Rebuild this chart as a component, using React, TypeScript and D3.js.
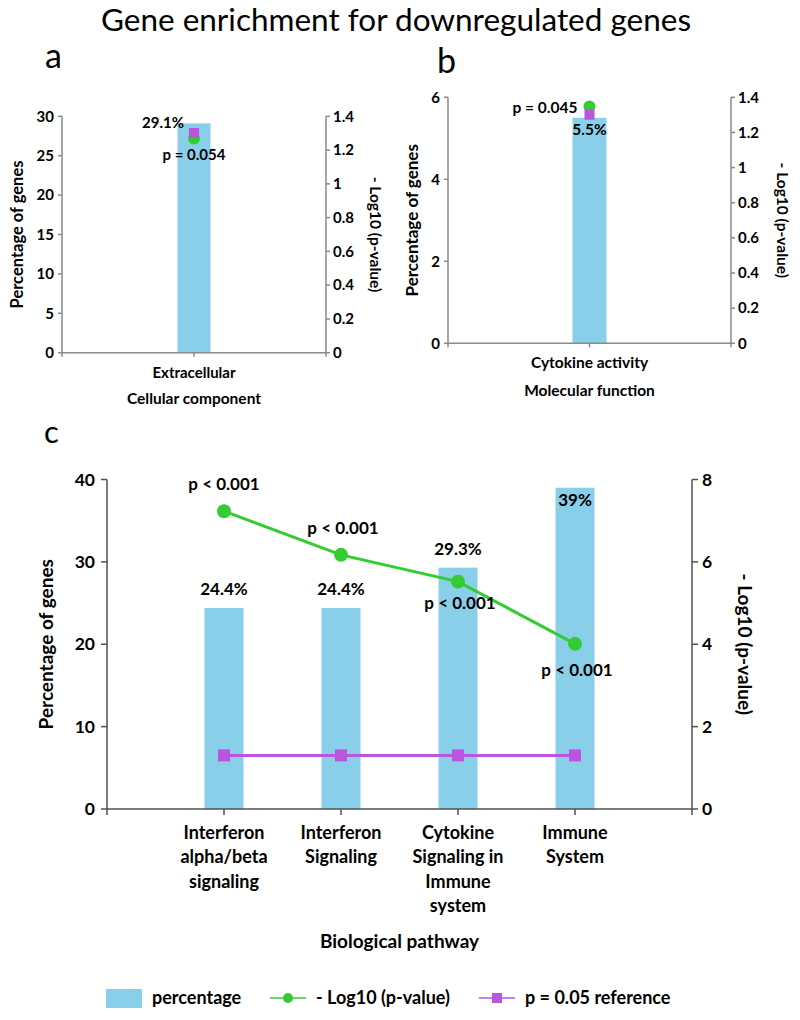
import React from "react";
import * as d3 from "d3";

// ---------- DATA ----------
const aCategories = ["Extracellular"];
const aPercent = [29.1];
const aLog = [1.268];
const aRef = [1.301];
const aPLabels = ["p = 0.054"];
const aLeftTicks = [0, 5, 10, 15, 20, 25, 30];
const aRightTicks = [0, 0.2, 0.4, 0.6, 0.8, 1, 1.2, 1.4];

const bCategories = ["Cytokine activity"];
const bPercent = [5.5];
const bLog = [1.347];
const bRef = [1.301];
const bPLabels = ["p = 0.045"];
const bLeftTicks = [0, 2, 4, 6];
const bRightTicks = [0, 0.2, 0.4, 0.6, 0.8, 1, 1.2, 1.4];

const cCategories = [
  ["Interferon", "alpha/beta", "signaling"],
  ["Interferon", "Signaling"],
  ["Cytokine", "Signaling in", "Immune", "system"],
  ["Immune", "System"],
];
const cPercent = [24.4, 24.4, 29.3, 39];
const cLog = [7.23, 6.17, 5.52, 4.01];
const cRef = [1.301, 1.301, 1.301, 1.301];
const cPLabels = ["p < 0.001", "p < 0.001", "p < 0.001", "p < 0.001"];
const cLeftTicks = [0, 10, 20, 30, 40];
const cRightTicks = [0, 2, 4, 6, 8];

const BAR = "#89CFEA";
const GREEN = "#33CC33";
const MAGENTA = "#BB55DD";
const FONT = "Lato, 'Open Sans', sans-serif";

type PanelProps = {
  x0: number; x1: number; yTop: number; yBot: number;
  leftMax: number; rightMax: number;
  leftTicks: number[]; rightTicks: number[];
  cats: string[][]; percent: number[]; log: number[]; ref: number[]; pLabels: string[];
  barW: number; tickFont: number; axisColor: string; tickLen: number;
  leftLabelGap: number; rightLabelGap: number;
  catFont: number; catBase: number; catLine: number;
  axisTitle: string; axisTitleY: number; axisTitleFont: number;
  yTitleX: number; yTitleFont: number; y2TitleX: number; y2TitleFont: number;
  dataFont: number;
  circleR: number; sq: number; lineW: number; drawLines: boolean;
  pctLabel: (i: number, x: number, y: number) => { x: number; y: number; anchor: string };
  pLabel: (i: number, x: number, y: number) => { x: number; y: number; anchor: string };
};

function Panel(p: PanelProps) {
  const keys = ["s", ...p.cats.map((_, i) => "c" + i), "e"];
  const x = d3.scalePoint<string>().domain(keys).range([p.x0, p.x1]).padding(0);
  const yL = d3.scaleLinear().domain([0, p.leftMax]).range([p.yBot, p.yTop]);
  const yR = d3.scaleLinear().domain([0, p.rightMax]).range([p.yBot, p.yTop]);
  const cx = (i: number) => x("c" + i) as number;
  const line = d3.line<number>().x((_, i) => cx(i)).y((d) => yR(d));
  const yMid = (p.yTop + p.yBot) / 2;
  return (
    <g>
      {p.percent.map((v, i) => (
        <rect key={"b" + i} x={cx(i) - p.barW / 2} y={yL(v)} width={p.barW}
          height={p.yBot - yL(v)} fill={BAR} />
      ))}
      <line x1={p.x0} x2={p.x1} y1={p.yBot} y2={p.yBot} stroke={p.axisColor} strokeWidth={1.5} />
      <line x1={p.x0} x2={p.x0} y1={p.yTop} y2={p.yBot} stroke={p.axisColor} strokeWidth={1.5} />
      <line x1={p.x1} x2={p.x1} y1={p.yTop} y2={p.yBot} stroke={p.axisColor} strokeWidth={1.5} />
      {keys.map((k) => (
        <line key={"xt" + k} x1={x(k)} x2={x(k)} y1={p.yBot} y2={p.yBot + p.tickLen}
          stroke={p.axisColor} strokeWidth={1.5} />
      ))}
      {p.leftTicks.map((t) => (
        <g key={"lt" + t}>
          <line x1={p.x0 - p.tickLen} x2={p.x0} y1={yL(t)} y2={yL(t)} stroke={p.axisColor} strokeWidth={1.5} />
          <text x={p.x0 - p.leftLabelGap} y={yL(t)} dy="0.35em" textAnchor="end"
            fontSize={p.tickFont} fontWeight="bold" fontFamily={FONT}>{t}</text>
        </g>
      ))}
      {p.rightTicks.map((t) => (
        <g key={"rt" + t}>
          <line x1={p.x1} x2={p.x1 + p.tickLen} y1={yR(t)} y2={yR(t)} stroke={p.axisColor} strokeWidth={1.5} />
          <text x={p.x1 + p.rightLabelGap} y={yR(t)} dy="0.35em" textAnchor="start"
            fontSize={p.tickFont} fontWeight="bold" fontFamily={FONT}>{d3.format("~g")(t)}</text>
        </g>
      ))}
      {p.cats.map((lines, i) => (
        <text key={"cat" + i} x={cx(i)} y={p.catBase} textAnchor="middle"
          fontSize={p.catFont} fontWeight="bold" fontFamily={FONT}>
          {lines.map((l, j) => (
            <tspan key={j} x={cx(i)} dy={j === 0 ? 0 : p.catLine}>{l}</tspan>
          ))}
        </text>
      ))}
      <text x={(p.x0 + p.x1) / 2} y={p.axisTitleY} textAnchor="middle" fontSize={p.axisTitleFont}
        fontWeight="bold" fontFamily={FONT}>{p.axisTitle}</text>
      <text transform={`translate(${p.yTitleX},${yMid}) rotate(-90)`} textAnchor="middle"
        dy="0.35em" fontSize={p.yTitleFont} fontWeight="bold" fontFamily={FONT}>Percentage of genes</text>
      <text transform={`translate(${p.y2TitleX},${yMid}) rotate(90)`} textAnchor="middle"
        dy="0.35em" fontSize={p.y2TitleFont} fontWeight="bold" fontFamily={FONT}>- Log10 (p-value)</text>
      {p.drawLines && (
        <>
          <path d={line(p.log) || ""} fill="none" stroke={GREEN} strokeWidth={p.lineW} />
          <path d={line(p.ref) || ""} fill="none" stroke={MAGENTA} strokeWidth={p.lineW} />
        </>
      )}
      {p.log.map((v, i) => (
        <circle key={"g" + i} cx={cx(i)} cy={yR(v)} r={p.circleR} fill={GREEN} />
      ))}
      {p.ref.map((v, i) => (
        <rect key={"m" + i} x={cx(i) - p.sq / 2} y={yR(v) - p.sq / 2} width={p.sq} height={p.sq} fill={MAGENTA} />
      ))}
      {p.percent.map((v, i) => {
        const l = p.pctLabel(i, cx(i), yL(v));
        return (
          <text key={"pl" + i} x={l.x} y={l.y} textAnchor={l.anchor as any} fontSize={p.dataFont}
            fontWeight="bold" fontFamily={FONT}>{d3.format("~g")(v)}%</text>
        );
      })}
      {p.log.map((v, i) => {
        const l = p.pLabel(i, cx(i), yR(v));
        return (
          <text key={"ppl" + i} x={l.x} y={l.y} textAnchor={l.anchor as any} fontSize={p.dataFont}
            fontWeight="bold" fontFamily={FONT}>{p.pLabels[i]}</text>
        );
      })}
    </g>
  );
}

export default function App() {
  const W = 800, H = 1020;
  return (
    <svg width={W} height={H} style={{ position: "absolute", left: 0, top: 0 }}>
      <rect width={W} height={H} fill="#fff" />
      <text x={396} y={31} textAnchor="middle" fontSize={31.5} fontFamily={FONT}>
        Gene enrichment for downregulated genes
      </text>
      <text x={45} y={68} fontSize={34} fontFamily={FONT}>a</text>
      <text x={437} y={73} fontSize={34} fontFamily={FONT}>b</text>
      <text x={44} y={443} fontSize={31} fontFamily={FONT}>c</text>

      <Panel x0={62} x1={326} yTop={116.3} yBot={352.7} leftMax={30} rightMax={1.4}
        leftTicks={aLeftTicks} rightTicks={aRightTicks}
        cats={aCategories.map((c) => [c])} percent={aPercent} log={aLog} ref={aRef} pLabels={aPLabels}
        barW={33} tickFont={15} axisColor="#8a8a8a" tickLen={4} leftLabelGap={8} rightLabelGap={7}
        catFont={15} catBase={378} catLine={26}
        axisTitle="Cellular component" axisTitleY={404} axisTitleFont={15.5}
        yTitleX={17} yTitleFont={16.5} y2TitleX={375} y2TitleFont={15.5}
        dataFont={15} circleR={6} sq={10} lineW={2} drawLines={false}
        pctLabel={(i, x, y) => ({ x: x - 10, y: y + 5, anchor: "end" })}
        pLabel={(i, x, y) => ({ x: x, y: y + 21, anchor: "middle" })}
      />

      <Panel x0={448} x1={731} yTop={97.3} yBot={343.3} leftMax={6} rightMax={1.4}
        leftTicks={bLeftTicks} rightTicks={bRightTicks}
        cats={bCategories.map((c) => [c])} percent={bPercent} log={bLog} ref={bRef} pLabels={bPLabels}
        barW={34} tickFont={15} axisColor="#8a8a8a" tickLen={4} leftLabelGap={8} rightLabelGap={7}
        catFont={15.5} catBase={368} catLine={26}
        axisTitle="Molecular function" axisTitleY={396} axisTitleFont={15.5}
        yTitleX={412} yTitleFont={17} y2TitleX={782} y2TitleFont={15.5}
        dataFont={15.5} circleR={6} sq={10} lineW={2} drawLines={false}
        pctLabel={(i, x, y) => ({ x: x, y: y + 17, anchor: "middle" })}
        pLabel={(i, x, y) => ({ x: x - 12, y: y + 6, anchor: "end" })}
      />

      <Panel x0={107} x1={692} yTop={479.5} yBot={809} leftMax={40} rightMax={8}
        leftTicks={cLeftTicks} rightTicks={cRightTicks}
        cats={cCategories} percent={cPercent} log={cLog} ref={cRef} pLabels={cPLabels}
        barW={39} tickFont={17.5} axisColor="#505050" tickLen={6} leftLabelGap={12} rightLabelGap={10}
        catFont={18} catBase={839} catLine={24.4}
        axisTitle="Biological pathway" axisTitleY={948} axisTitleFont={19}
        yTitleX={46} yTitleFont={19} y2TitleX={745} y2TitleFont={19}
        dataFont={17} circleR={7} sq={12} lineW={3} drawLines={true}
        pctLabel={(i, x, y) => (i === 3 ? { x, y: y + 18, anchor: "middle" } : { x, y: y - 13, anchor: "middle" })}
        pLabel={(i, x, y) =>
          i < 2 ? { x: x + (i === 1 ? 2 : 0), y: y - 21, anchor: "middle" } : { x: x + 2, y: y + (i === 2 ? 27 : 32), anchor: "middle" }}
      />

      <rect x={106} y={989} width={36} height={19} fill={BAR} />
      <text x={152} y={1004} fontSize={18} fontWeight="bold" fontFamily={FONT}>percentage</text>
      <line x1={270} x2={306} y1={998} y2={998} stroke={GREEN} strokeWidth={1.5} />
      <circle cx={288} cy={998} r={5} fill={GREEN} />
      <text x={316} y={1004} fontSize={18} fontWeight="bold" fontFamily={FONT}>- Log10 (p-value)</text>
      <line x1={479} x2={515} y1={998} y2={998} stroke={MAGENTA} strokeWidth={1.5} />
      <rect x={492} y={993} width={10} height={10} fill={MAGENTA} />
      <text x={525} y={1004} fontSize={18} fontWeight="bold" fontFamily={FONT}>p = 0.05 reference</text>
    </svg>
  );
}
